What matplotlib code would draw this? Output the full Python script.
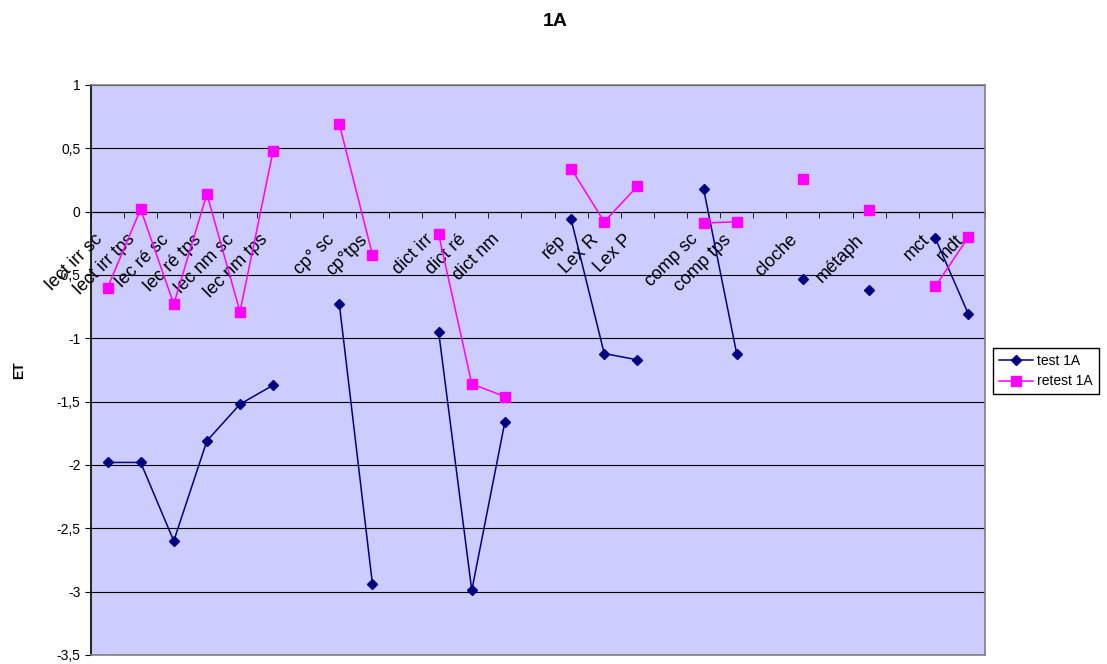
import numpy as np
import matplotlib.pyplot as plt
import matplotlib.transforms as mtransforms
from matplotlib.ticker import FuncFormatter, MultipleLocator

plt.rcParams['font.family'] = ['Liberation Sans', 'DejaVu Sans']

categories = ['lect irr sc', 'lect irr tps', 'lec ré sc', 'lec ré tps', 'lec nm sc', 'lec nm tps', '',
              'cp° sc', 'cp°tps', '', 'dict irr', 'dict ré', 'dict nm', '',
              'rép', 'Lex R', 'Lex P', '', 'comp sc', 'comp tps', '', 'cloche', '',
              'métaph', '', 'mct', 'mdt']

nan = np.nan
test_1a = [-1.98, -1.98, -2.60, -1.81, -1.52, -1.37, nan,
           -0.73, -2.94, nan, -0.95, -2.99, -1.66, nan,
           -0.06, -1.12, -1.17, nan, 0.18, -1.12, nan, -0.53, nan,
           -0.62, nan, -0.21, -0.81]
retest_1a = [-0.60, 0.02, -0.73, 0.14, -0.79, 0.48, nan,
             0.69, -0.34, nan, -0.18, -1.36, -1.46, nan,
             0.34, -0.08, 0.20, nan, -0.09, -0.08, nan, 0.26, nan,
             0.01, nan, -0.59, -0.20]

ymin, ymax = -3.5, 1.0
x = np.arange(len(categories))

fig = plt.figure(figsize=(11.07, 6.64), dpi=100)
ax = fig.add_axes([0.0822, 0.0136, 0.8076, 0.8584])
ax.set_facecolor('#CCCCFF')

ax.plot(x, test_1a, color='#000080', lw=1.1, marker='D', ms=5, label='test 1A', zorder=3)
ax.plot(x, retest_1a, color='#FF00FF', lw=1.1, marker='s', ms=7, label='retest 1A', zorder=3)

ax.set_xlim(-0.5, len(categories) - 0.5)
ax.set_ylim(ymin, ymax)
ax.yaxis.set_major_locator(MultipleLocator(0.5))
ax.yaxis.set_major_formatter(FuncFormatter(lambda v, p: f'{v:g}'.replace('.', ',')))
ax.tick_params(axis='y', labelsize=10, length=4, direction='out', color='black')
ax.tick_params(axis='x', bottom=False, labelbottom=False)
ax.set_axisbelow(True)
ax.yaxis.grid(True, color='black', lw=0.8)

for side in ['top', 'right', 'bottom']:
    ax.spines[side].set_color('#808080')
    ax.spines[side].set_linewidth(1.2)
ax.spines['left'].set_color('black')
ax.spines['left'].set_linewidth(1.2)

# category axis crossing at zero
sec = ax.secondary_xaxis((0 - ymin) / (ymax - ymin))
sec.xaxis.set_ticks_position('bottom')
sec.xaxis.set_label_position('bottom')
sec.spines['bottom'].set_color('black')
sec.spines['bottom'].set_linewidth(1.0)
sec.set_xticks(x)
sec.set_xticklabels(categories, rotation=45, ha='right', va='top',
                    rotation_mode='anchor', fontsize=13)
sec.set_xticks(np.arange(len(categories) + 1) - 0.5, minor=True)
sec.tick_params(which='major', bottom=True, top=False, labelbottom=True, labeltop=False,
                length=0, pad=14)
sec.tick_params(which='minor', bottom=True, top=False, length=4, direction='out', color='black')
shift = mtransforms.ScaledTranslation(-10 / 72, 0, fig.dpi_scale_trans)
for lbl in sec.get_xticklabels():
    lbl.set_transform(lbl.get_transform() + shift)

ax.set_ylabel('ET', fontsize=10, fontweight='bold', labelpad=22)
fig.text(555 / 1107, 1 - 22 / 664, '1A', fontsize=14, fontweight='bold', ha='center', va='center')

fig.legend(loc='center left', bbox_to_anchor=(993 / 1107, 1 - 371 / 664), fontsize=10,
           frameon=True, fancybox=False, edgecolor='black', framealpha=1,
           borderpad=0.4, handlelength=2.5, labelspacing=0.5, handletextpad=0.3, borderaxespad=0)

fig.savefig('out.png', dpi=100)
